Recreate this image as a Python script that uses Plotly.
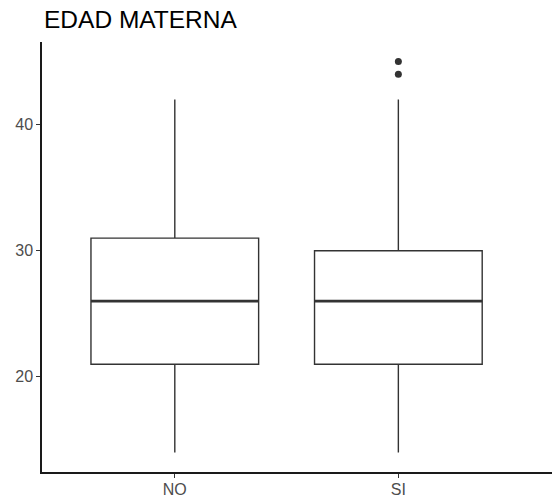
import plotly.graph_objects as go

categories = ["NO", "SI"]
lower_whisker = [14, 14]
q1 = [21, 21]
median = [26, 26]
q3 = [31, 30]
upper_whisker = [42, 42]
outlier_cat = ["SI", "SI"]
outlier_val = [44, 45]
y_ticks = [20, 30, 40]

BOX_W = 0.75
LINE = "#333333"
OFF = 8  # page body margin

fig = go.Figure()
fig.add_trace(go.Box(
    x=categories, q1=q1, median=median, q3=q3,
    lowerfence=lower_whisker, upperfence=upper_whisker,
    fillcolor="white", line=dict(color=LINE, width=1.4),
    whiskerwidth=0, width=BOX_W, boxpoints=False, showlegend=False,
    hoverinfo="skip",
))
# thicker median lines like ggplot
for i, (c, m) in enumerate(zip(categories, median)):
    fig.add_trace(go.Scatter(
        x=[i - BOX_W / 2, i + BOX_W / 2], y=[m, m], xaxis="x2",
        mode="lines", line=dict(color=LINE, width=2.8),
        showlegend=False, hoverinfo="skip",
    ))
fig.add_trace(go.Scatter(
    x=outlier_cat, y=outlier_val, mode="markers",
    marker=dict(color=LINE, size=7), showlegend=False,
))

W, H = 560, 497 - OFF
# plot area spans page x 42..560 -> figure x 34..552
xr = [-0.594, 1.723]
fig.update_layout(
    width=W, height=H,
    margin=dict(l=42 - OFF, r=OFF, t=42 - OFF, b=25, autoexpand=False),
    paper_bgcolor="white", plot_bgcolor="white",
    font=dict(family="Liberation Sans, Arial, sans-serif", color="#4D4D4D", size=16),
    title=dict(text="EDAD MATERNA", x=(44 - OFF) / W, xanchor="left", xref="container",
               y=1 - (19 - OFF) / H, yanchor="middle", yref="container",
               font=dict(size=24.5, color="black")),
    xaxis=dict(type="category", range=xr, showgrid=False, zeroline=False,
               showline=True, linecolor="#1a1a1a", linewidth=1.5,
               ticks="outside", ticklen=4, tickcolor="#333333", tickwidth=1.2,
               ticklabelstandoff=-2,
               tickfont=dict(size=16, color="#4D4D4D"), automargin=False),
    xaxis2=dict(range=xr, overlaying="x", visible=False),
    yaxis=dict(range=[12.45, 46.55], tickvals=y_ticks, showgrid=False, zeroline=False,
               showline=True, linecolor="#1a1a1a", linewidth=1.5,
               ticks="outside", ticklen=4, tickcolor="#333333", tickwidth=1.2,
               tickfont=dict(size=16, color="#4D4D4D"), automargin=False),
)
fig.write_html("out.html")
